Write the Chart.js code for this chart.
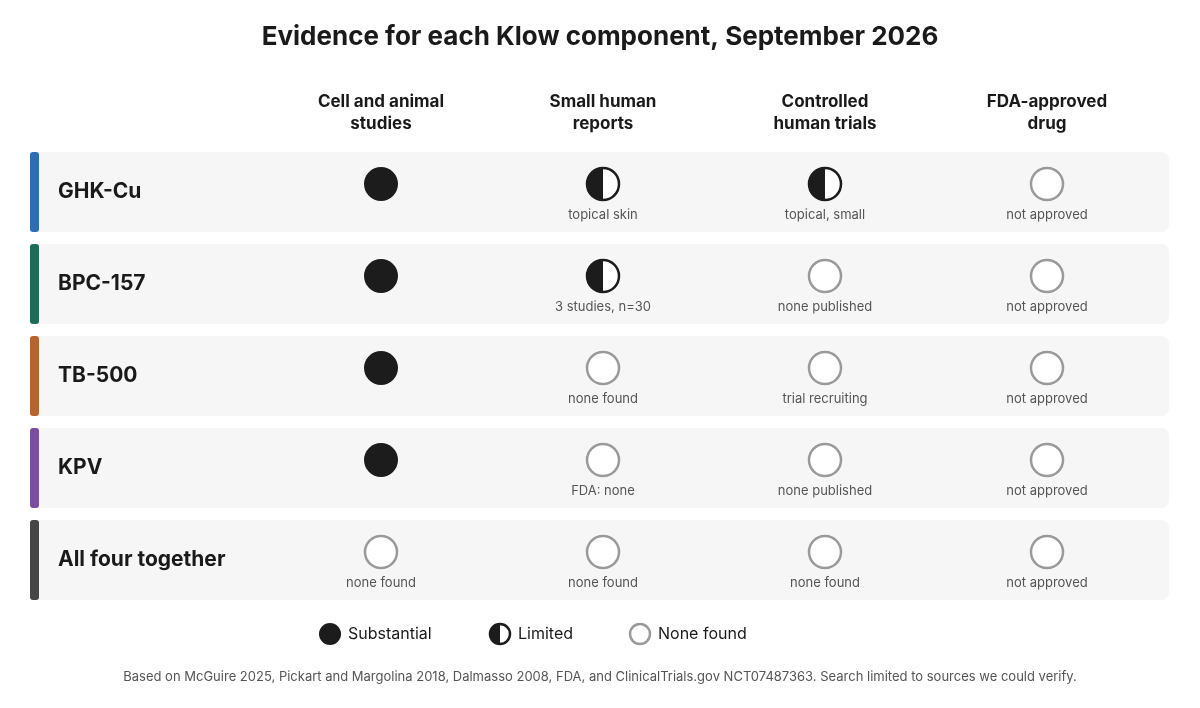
<!DOCTYPE html>
<html><head><meta charset="utf-8">
<script src="https://cdn.jsdelivr.net/npm/chart.js@4"></script>
<style>html,body{margin:0;background:#fff}canvas{display:block}</style>
</head><body><canvas id="c" width="1200" height="708"></canvas>
<script>
const components = ["GHK-Cu","BPC-157","TB-500","KPV","All four together"];
const rowColors = ["#2e6db4","#1e6b58","#b5642e","#7b4d9f","#464646"];
const stages = [["Cell and animal","studies"],["Small human","reports"],["Controlled","human trials"],["FDA-approved","drug"]];
// 2 = Substantial, 1 = Limited, 0 = None found
const evidence = [
  [2,1,1,0],
  [2,1,0,0],
  [2,0,0,0],
  [2,0,0,0],
  [0,0,0,0]
];
const notes = [
  ["","topical skin","topical, small","not approved"],
  ["","3 studies, n=30","none published","not approved"],
  ["","none found","trial recruiting","not approved"],
  ["","FDA: none","none published","not approved"],
  ["none found","none found","none found","not approved"]
];
const legendLabels = ["Substantial","Limited","None found"];
const titleText = "Evidence for each Klow component, September 2026";
const footText = "Based on McGuire 2025, Pickart and Margolina 2018, Dalmasso 2008, FDA, and ClinicalTrials.gov NCT07487363. Search limited to sources we could verify.";

const FONT = "Inter, 'Noto Sans', sans-serif";
const R = 17;

function mkData(level){
  const d=[];
  evidence.forEach((row,r)=>row.forEach((v,c)=>{ if(v===level) d.push({x:c+1,y:r,note:notes[r][c]}); }));
  return d;
}

function drawMarker(ctx,x,y,level,r){
  ctx.save();
  ctx.lineWidth=2.5;
  if(level===2){
    ctx.beginPath();ctx.arc(x,y,r,0,Math.PI*2);ctx.fillStyle="#1c1c1c";ctx.fill();
  } else if(level===1){
    ctx.beginPath();ctx.arc(x,y,r-1,0,Math.PI*2);ctx.fillStyle="#fff";ctx.fill();
    ctx.beginPath();ctx.arc(x,y,r-1,Math.PI/2,Math.PI*1.5);ctx.closePath();ctx.fillStyle="#1c1c1c";ctx.fill();
    ctx.beginPath();ctx.arc(x,y,r-1,0,Math.PI*2);ctx.strokeStyle="#1c1c1c";ctx.stroke();
  } else {
    ctx.beginPath();ctx.arc(x,y,r-1,0,Math.PI*2);ctx.fillStyle="#fff";ctx.fill();ctx.strokeStyle="#9a9a9a";ctx.stroke();
  }
  ctx.restore();
}

function rr(ctx,x,y,w,h,r){ctx.beginPath();ctx.roundRect(x,y,w,h,r);}

const tablePlugin={
  id:"table",
  beforeDatasetsDraw(chart){
    const ctx=chart.ctx, xs=chart.scales.x, ys=chart.scales.y, a=chart.chartArea;
    ctx.save();
    // title
    ctx.fillStyle="#1a1a1a";ctx.textAlign="center";ctx.textBaseline="middle";
    ctx.font="bold 26px "+FONT;ctx.fillText(titleText,600,37);
    // headers
    ctx.font="bold 17px "+FONT;
    stages.forEach((s,i)=>{const x=xs.getPixelForValue(i+1);ctx.fillText(s[0],x,102);ctx.fillText(s[1],x,124);});
    // rows
    components.forEach((name,r)=>{
      const cy=ys.getPixelForValue(r);const top=cy-40;
      ctx.fillStyle="#f5f6f5";rr(ctx,a.left,top,a.right-a.left,80,8);ctx.fill();
      ctx.fillStyle=rowColors[r];rr(ctx,a.left,top,9,80,3);ctx.fill();
      ctx.fillStyle="#1a1a1a";ctx.textAlign="left";ctx.font="bold 21px "+FONT;ctx.fillText(name,58,cy);
      ctx.textAlign="center";ctx.font="13px "+FONT;ctx.fillStyle="#555";
      notes[r].forEach((n,c)=>{ if(n) ctx.fillText(n,xs.getPixelForValue(c+1),cy+23); });
    });
    // legend
    const lx=[330,500,640];
    ctx.textAlign="left";ctx.font="16px "+FONT;ctx.fillStyle="#1a1a1a";
    legendLabels.forEach((l,i)=>{drawMarker(ctx,lx[i],634,2-i,11);ctx.fillStyle="#1a1a1a";ctx.fillText(l,lx[i]+18,634);});
    // footnote
    ctx.textAlign="center";ctx.font="13px "+FONT;ctx.fillStyle="#555";ctx.fillText(footText,600,677);
    ctx.restore();
  },
  afterDatasetsDraw(chart){
    const ctx=chart.ctx;
    chart.data.datasets.forEach((ds,di)=>{
      chart.getDatasetMeta(di).data.forEach(el=>drawMarker(ctx,el.x,el.y-8,ds.level,R));
    });
  }
};

new Chart(document.getElementById("c"),{
  type:"scatter",
  data:{datasets:[
    {label:legendLabels[0],level:2,data:mkData(2),pointRadius:0},
    {label:legendLabels[1],level:1,data:mkData(1),pointRadius:0},
    {label:legendLabels[2],level:0,data:mkData(0),pointRadius:0}
  ]},
  options:{
    responsive:false,animation:false,
    layout:{padding:{left:30,right:31,top:152,bottom:108}},
    plugins:{legend:{display:false},tooltip:{enabled:false},title:{display:false}},
    scales:{
      x:{type:"linear",min:1-351/222,max:4+122/222,display:false},
      y:{type:"linear",min:-40/92,max:4+40/92,reverse:true,display:false}
    }
  },
  plugins:[tablePlugin]
});
</script></body></html>
